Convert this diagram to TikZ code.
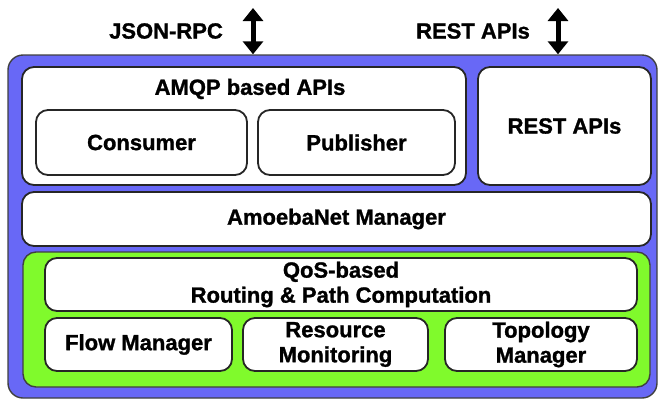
\documentclass[tikz,border=0pt]{standalone}
\usepackage{fontspec}
\setmainfont{Liberation Sans}[BoldFeatures={FakeBold=1.2}]
\usetikzlibrary{arrows.meta}
\definecolor{layerblue}{RGB}{104,104,246}
\definecolor{layergreen}{RGB}{128,250,44}
\begin{document}
\begin{tikzpicture}[x=1pt,y=-1pt,>={Triangle[width=20pt,length=13pt]},
  every node/.style={font=\bfseries\fontsize{22}{25}\selectfont,inner sep=0pt,align=center},
  layer/.style={draw=black!75,line width=1.4pt,rounded corners=15pt},
  module/.style={draw=black!85,line width=1.8pt,fill=white,rounded corners=12pt},
  bigarrow/.style={<->,line width=5pt}]
  \useasboundingbox (0,0) rectangle (660,400);
  \node[layer,fill=layerblue,minimum width=649pt,minimum height=343pt] (outer) at (332.5,226.5) {};
  \node[module,minimum width=444pt,minimum height=118pt] (amqp) at (244,126) {};
  \node (amqptitle) at (250,89) {AMQP based APIs};
  \node[module,minimum width=211pt,minimum height=65pt] (consumer) at (141.5,142.5) {Consumer};
  \node[module,minimum width=197pt,minimum height=65pt] (publisher) at (356.5,142.5) {Publisher};
  \node[module,minimum width=173pt,minimum height=118pt] (rest) at (564.5,126) {REST APIs};
  \node[module,minimum width=629pt,minimum height=54pt] (manager) at (336.5,219) {AmoebaNet Manager};
  \node[layer,fill=layergreen,rounded corners=13pt,minimum width=627pt,minimum height=135pt] (core) at (336.5,319.5) {};
  \node[module,minimum width=592pt,minimum height=53pt] (qos) at (341,284.5) {QoS-based\\Routing \& Path Computation};
  \foreach \name/\x/\w/\txt in {flow/138.5/187/Flow Manager,resource/335.5/185/Resource\\Monitoring,topology/541/192/Topology\\Manager}
  {
    \node[module,minimum width=\w pt,minimum height=53pt] (\name) at (\x,344.5) {\txt};
  }
  \node (jsonrpc) at (166,31) {JSON-RPC};
  \node (restext) at (473,31) {REST APIs};
  \coordinate (jsontip) at (253,8);
  \coordinate (resttip) at (558,8);
  \draw[bigarrow] (jsontip) -- (jsontip |- outer.north);
  \draw[bigarrow] (resttip) -- (resttip |- outer.north);
\end{tikzpicture}
\end{document}
